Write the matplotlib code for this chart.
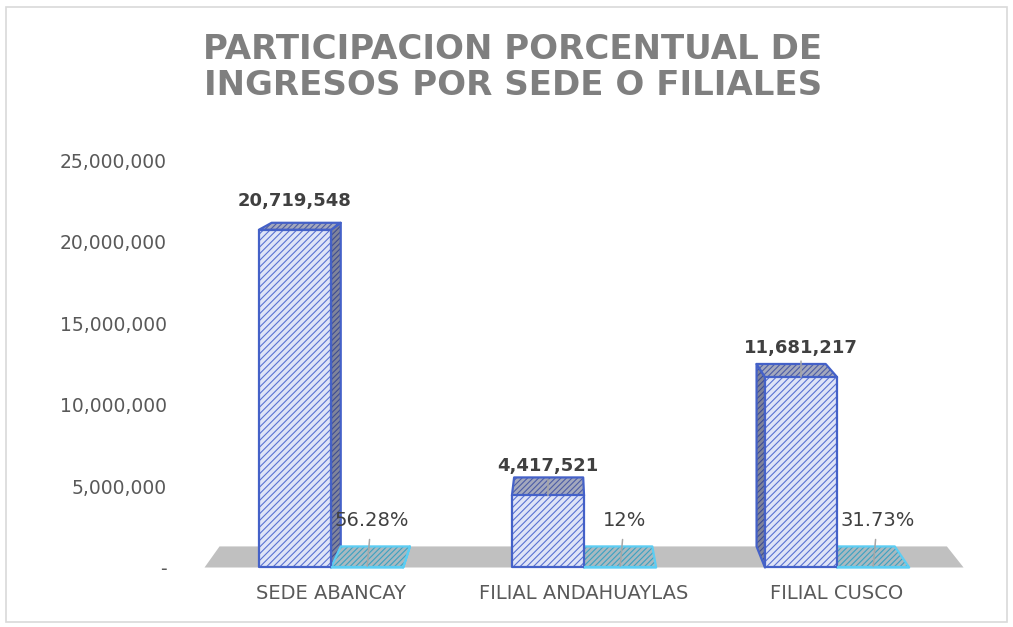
import matplotlib.pyplot as plt
from matplotlib.patches import Polygon, Rectangle
from matplotlib.ticker import FuncFormatter

categorias = ["SEDE ABANCAY", "FILIAL ANDAHUAYLAS", "FILIAL CUSCO"]
ingresos = [20719548, 4417521, 11681217]
porcentajes = [0.5628, 0.12, 0.3173]
etiquetas_pct = ["56.28%", "12%", "31.73%"]
con_guia = [False, True, True]

plt.rcParams["hatch.linewidth"] = 0.8

# punto de fuga y profundidad (falso 3D)
VP = (0.92, 31000000)
T = 0.0417
ANCHO = 0.285


def atras(x, y):
    return x + (VP[0] - x) * T, y + (VP[1] - y) * T


def cara(ax, pts, fondo, trama, borde, z, densidad="/////"):
    ax.add_patch(Polygon(pts, closed=True, facecolor=fondo, edgecolor=trama,
                         hatch=densidad, lw=0, zorder=z, clip_on=False))
    ax.add_patch(Polygon(pts, closed=True, facecolor="none", edgecolor=borde,
                         lw=1.6, joinstyle="round", zorder=z + 0.1, clip_on=False))


def barra(ax, x0, h, colores, z):
    x1 = x0 + ANCHO
    frente = [(x0, 0), (x1, 0), (x1, h), (x0, h)]
    fondo = [atras(*p) for p in frente]
    if x1 < VP[0]:
        lado = [frente[1], frente[2], fondo[2], fondo[1]]
        cara(ax, lado, colores["lado"], colores["trama_lado"], colores["borde"], z, "//////")
    elif x0 > VP[0]:
        lado = [frente[0], frente[3], fondo[3], fondo[0]]
        cara(ax, lado, colores["lado"], colores["trama_lado"], colores["borde"], z, "//////")
    tapa = [frente[3], frente[2], fondo[2], fondo[3]]
    cara(ax, tapa, colores["tapa"], colores["trama_tapa"], colores["borde"], z + 0.2, "//////")
    cara(ax, frente, colores["frente"], colores["trama"], colores["borde"], z + 0.4)


azul = {"frente": "#dfe4f7", "trama": "#5a72d2", "borde": "#4461c8",
        "tapa": "#a3a8bd", "trama_tapa": "#4c5ca6",
        "lado": "#80849a", "trama_lado": "#3e4c92"}
celeste = {"frente": "#a9b9c0", "trama": "#3aa2c2", "borde": "#5ccdf3",
           "tapa": "#a9b9c0", "trama_tapa": "#3aa2c2",
           "lado": "#a9b9c0", "trama_lado": "#3aa2c2"}

fig = plt.figure(figsize=(10.13, 6.27), dpi=100)
fig.patches.append(Rectangle((0.006, 0.008), 0.988, 0.981, transform=fig.transFigure,
                             fill=False, edgecolor="#d9d9d9", lw=1.2))
ax = fig.add_axes([0.2019, 0.0949, 0.7493, 0.6499])
ax.set_xlim(-0.5, 2.5)
ax.set_ylim(0, 25000000)

# piso
piso = [(-0.5, 0), (2.5, 0), atras(2.5, 0), atras(-0.5, 0)]
ax.add_patch(Polygon(piso, closed=True, facecolor="#c0c0c0", edgecolor="none",
                     zorder=1, clip_on=False))

for i, (v, p) in enumerate(zip(ingresos, porcentajes)):
    barra(ax, i - ANCHO, v, azul, 2)
    barra(ax, i, p, celeste, 2)

    flecha = dict(arrowstyle="-", color="#a6a6a6", lw=1.1, shrinkA=1, shrinkB=0)
    ax.annotate(f"{v:,}", xy=(i - ANCHO / 2, v), xytext=(0, 21),
                textcoords="offset points", ha="center", va="center",
                fontsize=13, fontweight="bold", color="#404040", zorder=6,
                arrowprops=flecha if con_guia[i] else None)
    ax.annotate(etiquetas_pct[i], xy=(i + ANCHO / 2, p), xytext=(3, 34),
                textcoords="offset points", ha="center", va="center",
                fontsize=14, color="#404040", zorder=6,
                arrowprops=dict(arrowstyle="-", color="#a6a6a6", lw=1.1,
                                shrinkA=5, shrinkB=1))

ax.set_xticks(range(len(categorias)))
ax.set_xticklabels(categorias)
ax.set_yticks(range(0, 25000001, 5000000))
ax.yaxis.set_major_formatter(FuncFormatter(lambda v, _: "-" if v == 0 else f"{int(v):,}"))
ax.tick_params(axis="x", length=0, pad=12, labelsize=14, labelcolor="#595959")
ax.tick_params(axis="y", length=0, pad=27, labelsize=13.5, labelcolor="#595959")
for s in ax.spines.values():
    s.set_visible(False)
ax.patch.set_visible(False)

fig.text(0.5064, 0.8927, "PARTICIPACION PORCENTUAL DE\nINGRESOS POR SEDE O FILIALES",
         ha="center", va="center", fontsize=24.5, fontweight="bold",
         color="#7f7f7f", linespacing=1.1)

fig.savefig("out.png", dpi=100)
